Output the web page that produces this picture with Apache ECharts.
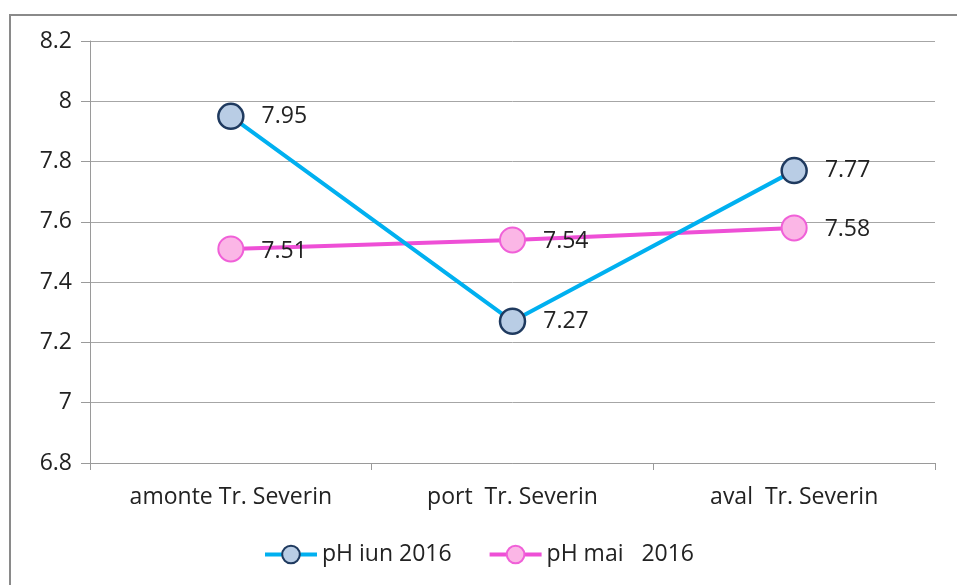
<!DOCTYPE html>
<html>
<head>
<meta charset="utf-8">
<script src="https://cdn.jsdelivr.net/npm/echarts@6/dist/echarts.min.js"></script>
<style>
    html, body { margin: 0; padding: 0; background: #fff; }
    #frame { position: absolute; left: 9px; top: 14px; width: 960px; height: 600px; border: 2px solid #8a8a8a; box-sizing: border-box; }
    #chart { position: absolute; left: 0; top: 0; width: 957px; height: 585px; }
</style>
</head>
<body>
<div id="frame"></div>
<div id="chart"></div>
<script>
    var categories = ['amonte Tr. Severin', 'port  Tr. Severin', 'aval  Tr. Severin'];
    var phIun = [7.95, 7.27, 7.77];
    var phMai = [7.51, 7.54, 7.58];
    var seriesNames = ['pH iun 2016', 'pH mai   2016'];

    var font = '"Open Sans", "Noto Sans", sans-serif';
    var fs = 23;

    var chart = echarts.init(document.getElementById('chart'));
    var option = {
        animation: false,
        grid: {
            left: 90,
            right: 22,
            top: 41,
            bottom: 122
        },
        legend: {
            bottom: 14,
            left: 'center',
            itemWidth: 52,
            itemHeight: 22,
            itemGap: 36,
            textStyle: { fontSize: fs, color: '#222', fontFamily: font },
            lineStyle: { width: 4 },
            data: seriesNames
        },
        xAxis: {
            type: 'category',
            data: categories,
            boundaryGap: true,
            axisLine: { lineStyle: { color: '#9a9a9a' } },
            axisTick: { show: true, length: 7, lineStyle: { color: '#9a9a9a' } },
            axisLabel: { fontSize: fs, color: '#222', margin: 23, fontFamily: font }
        },
        yAxis: {
            type: 'value',
            min: 6.8,
            max: 8.2,
            interval: 0.2,
            axisLine: { show: true, lineStyle: { color: '#9a9a9a' } },
            axisTick: { show: true, length: 9, lineStyle: { color: '#9a9a9a' } },
            axisLabel: {
                fontSize: fs, color: '#222', margin: 18, fontFamily: font,
                formatter: function (v) { return String(Math.round(v * 10) / 10); }
            },
            splitLine: { lineStyle: { color: '#a6a6a6' } }
        },
        series: [
            {
                name: seriesNames[0],
                type: 'line',
                data: phIun,
                symbol: 'circle',
                symbolSize: 25,
                lineStyle: { color: '#00b0f0', width: 4 },
                itemStyle: { color: '#b9cde5', borderColor: '#1f3a5f', borderWidth: 2.5 },
                label: {
                    show: true, position: 'right', distance: 17,
                    fontSize: fs, color: '#222', fontFamily: font
                },
                z: 3
            },
            {
                name: seriesNames[1],
                type: 'line',
                data: phMai,
                symbol: 'circle',
                symbolSize: 25,
                lineStyle: { color: '#ee4fd6', width: 4 },
                itemStyle: { color: '#fbb6e6', borderColor: '#f060d8', borderWidth: 2 },
                label: {
                    show: true, position: 'right', distance: 17,
                    fontSize: fs, color: '#222', fontFamily: font,
                    offset: [0, 2]
                },
                z: 2
            }
        ]
    };
    chart.setOption(option);
</script>
</body>
</html>
